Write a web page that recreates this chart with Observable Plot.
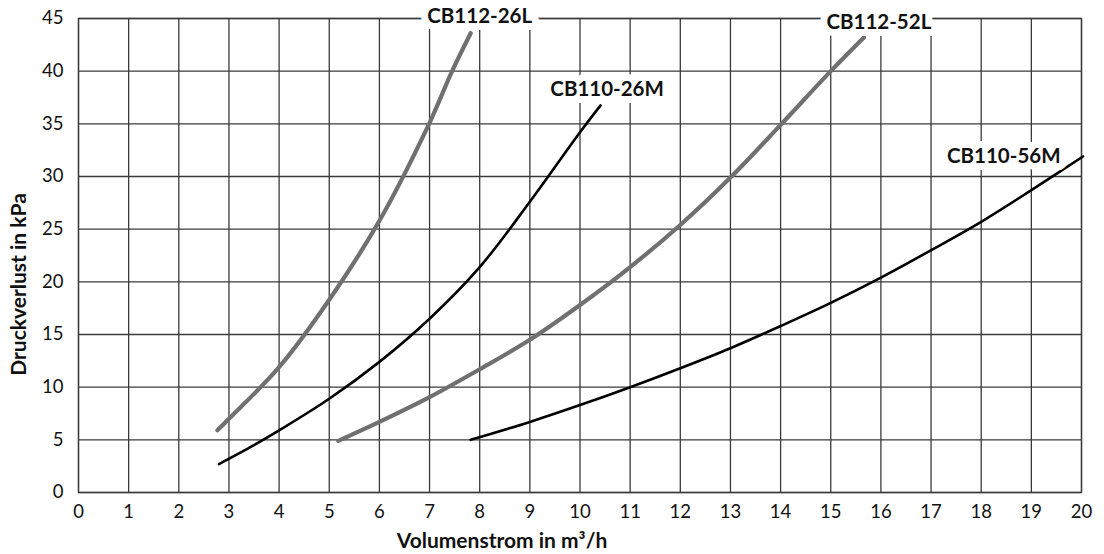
<!DOCTYPE html>
<html>
<head>
<meta charset="utf-8">
<script src="https://cdn.jsdelivr.net/npm/d3@7"></script>
<script src="https://cdn.jsdelivr.net/npm/@observablehq/plot@0.6"></script>
<style>
  html, body { margin: 0; padding: 0; background: #fff; }
  #chart { width: 1104px; height: 554px; }
</style>
</head>
<body>
<div id="chart"></div>
<script>
// Tick values
const xTicks = d3.range(0, 21, 1);
const yTicks = d3.range(0, 46, 5);

// Series: CB112-26L (gray)
const x26L = [2.77, 3, 4, 5, 6, 7, 7.45, 7.82];
const y26L = [5.9, 7.0, 11.9, 18.3, 25.8, 35.1, 40, 43.6];
// Series: CB110-26M (black)
const x26M = [2.8, 3.5, 4, 5, 6, 7, 8, 9, 10, 10.41];
const y26M = [2.7, 4.5, 5.9, 8.9, 12.4, 16.5, 21.4, 27.6, 34.2, 36.75];
// Series: CB112-52L (gray)
const x52L = [5.18, 6, 7, 8, 9, 10, 11, 12, 13, 14, 15, 15.66];
const y52L = [4.9, 6.7, 9.05, 11.7, 14.5, 17.8, 21.4, 25.4, 29.9, 34.9, 40, 43.2];
// Series: CB110-56M (black)
const x56M = [7.82, 9, 10, 11, 12, 13, 14, 15, 16, 17, 18, 19, 20.03];
const y56M = [5.0, 6.7, 8.3, 10.0, 11.8, 13.7, 15.8, 18.0, 20.4, 23.0, 25.7, 28.7, 31.9];

const seriesNames = ["CB112-26L", "CB110-26M", "CB112-52L", "CB110-56M"];
const seriesX = [x26L, x26M, x52L, x56M];
const seriesY = [y26L, y26M, y52L, y56M];

// Label anchor positions (data units)
const labelX = [8.0, 10.54, 15.96, 18.45];
const labelY = [45.15, 38.3, 44.6, 31.9];

const xTitle = "Volumenstrom in m³/h";
const yTitle = "Druckverlust in kPa";

const styles = {
  "CB112-26L": {stroke: "#707070", width: 4.2},
  "CB110-26M": {stroke: "#000000", width: 2.6},
  "CB112-52L": {stroke: "#707070", width: 4.2},
  "CB110-56M": {stroke: "#000000", width: 2.6}
};

const lineMarks = seriesNames.map((name, i) => {
  const rows = seriesX[i].map((x, j) => ({x, y: seriesY[i][j]}));
  return Plot.line(rows, {x: "x", y: "y", stroke: styles[name].stroke, strokeWidth: styles[name].width, curve: "catmull-rom", strokeLinecap: "round"});
});

const labels = seriesNames.map((name, i) => ({name, x: labelX[i], y: labelY[i]}));

const chart = Plot.plot({
  width: 1104,
  height: 554,
  marginLeft: 78,
  marginRight: 23,
  marginTop: 18,
  marginBottom: 62,
  style: {fontFamily: "Lato, sans-serif", fontSize: "18.5px", color: "#111", background: "#fff"},
  x: {domain: [0, 20], ticks: xTicks},
  y: {domain: [0, 45], ticks: yTicks},
  marks: [
    Plot.gridX(xTicks, {stroke: "#3a3a3a", strokeOpacity: 1, strokeWidth: 1.3}),
    Plot.gridY(yTicks, {stroke: "#3a3a3a", strokeOpacity: 1, strokeWidth: 1.3}),
    Plot.frame({stroke: "#3a3a3a", strokeWidth: 1.3}),
    ...lineMarks,
    Plot.text(labels, {x: "x", y: "y", text: "name", fill: "#111", stroke: "white", strokeWidth: 14, fontWeight: "bold", fontSize: 20.5}),
    Plot.axisX(xTicks, {tickSize: 0, tickPadding: 12, label: null, fontSize: 18.5}),
    Plot.axisY(yTicks, {tickSize: 0, tickPadding: 15, label: null, fontSize: 18.5}),
    Plot.text([xTitle], {frameAnchor: "bottom", dx: -78, dy: 49, text: d => d, fontWeight: "bold", fontSize: 21, lineAnchor: "middle", textAnchor: "middle"}),
    Plot.text([yTitle], {frameAnchor: "left", dx: -59, dy: 29, rotate: -90, text: d => d, fontWeight: "bold", fontSize: 21, lineAnchor: "middle", textAnchor: "middle"})
  ]
});
document.getElementById("chart").appendChild(chart);
</script>
</body>
</html>
